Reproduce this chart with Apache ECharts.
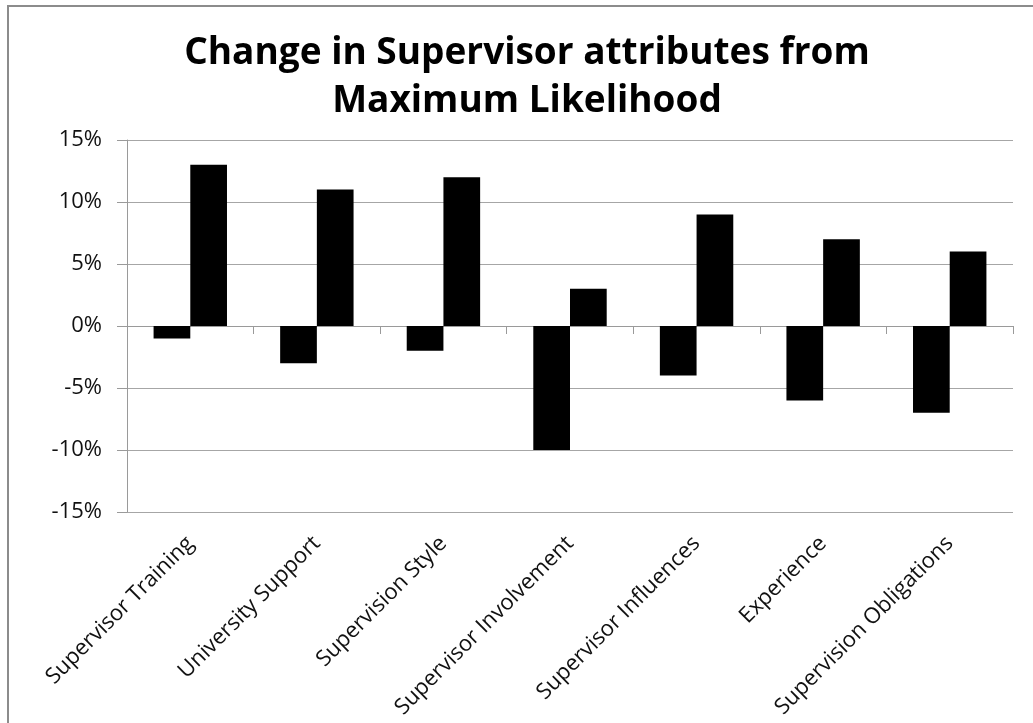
<!DOCTYPE html>
<html>
<head>
<meta charset="utf-8">
<script src="https://cdn.jsdelivr.net/npm/echarts@6/dist/echarts.min.js"></script>
<style>html,body{margin:0;padding:0;background:#fff}#c{width:1033px;height:723px}</style>
</head>
<body>
<div id="c"></div>
<script>
const titleText = 'Change in Supervisor attributes from\nMaximum Likelihood';
const categories = ['Supervisor Training','University Support','Supervision Style','Supervisor Involvement','Supervisor Influences','Experience','Supervision Obligations'];
const seriesA = [-1, -3, -2, -10, -4, -6, -7];
const seriesB = [13, 11, 12, 3, 9, 7, 6];
const yMin = -15, yMax = 15, yStep = 5;

const chart = echarts.init(document.getElementById('c'));
const font = 'Open Sans';
chart.setOption({
  animation: false,
  backgroundColor: '#fff',
  graphic: [{
    type: 'rect', silent: true,
    shape: { x: 8, y: 6, width: 1200, height: 900 },
    style: { fill: 'none', stroke: '#8c8c8c', lineWidth: 2 }
  }],
  title: {
    text: titleText, left: 522, top: 24, textAlign: 'center',
    textStyle: { fontFamily: font, fontSize: 37, fontWeight: 'bold', color: '#000', lineHeight: 48, align: 'center' }
  },
  grid: { left: 127, right: 20, top: 140, bottom: 211, containLabel: false },
  xAxis: [{
    type: 'category', data: categories, position: 'bottom',
    axisLine: { show: false, onZero: false },
    axisTick: { show: false },
    axisLabel: { interval: 0, rotate: 45, margin: 28, fontFamily: font, fontSize: 22, color: '#111' }
  }, {
    type: 'category', data: categories, position: 'bottom',
    axisLine: { show: true, onZero: true, lineStyle: { color: '#9a9a9a', width: 1 } },
    axisTick: { show: true, length: 8, interval: 0, lineStyle: { color: '#9a9a9a' } },
    axisLabel: { show: false }
  }],
  yAxis: {
    type: 'value', min: yMin, max: yMax, interval: yStep,
    axisLine: { show: true, lineStyle: { color: '#9a9a9a', width: 1 } },
    axisTick: { show: true, length: 10, lineStyle: { color: '#9a9a9a' } },
    axisLabel: { formatter: '{value}%', margin: 25, fontFamily: font, fontSize: 22, color: '#111' },
    splitLine: { show: true, lineStyle: { color: '#a6a6a6', width: 1 } }
  },
  series: [{
    type: 'bar', xAxisIndex: 0, data: seriesA, barGap: '0%', barCategoryGap: '42%',
    itemStyle: { color: '#000' }
  }, {
    type: 'bar', xAxisIndex: 0, data: seriesB, barGap: '0%', barCategoryGap: '42%',
    itemStyle: { color: '#000' }
  }]
});
</script>
</body>
</html>
